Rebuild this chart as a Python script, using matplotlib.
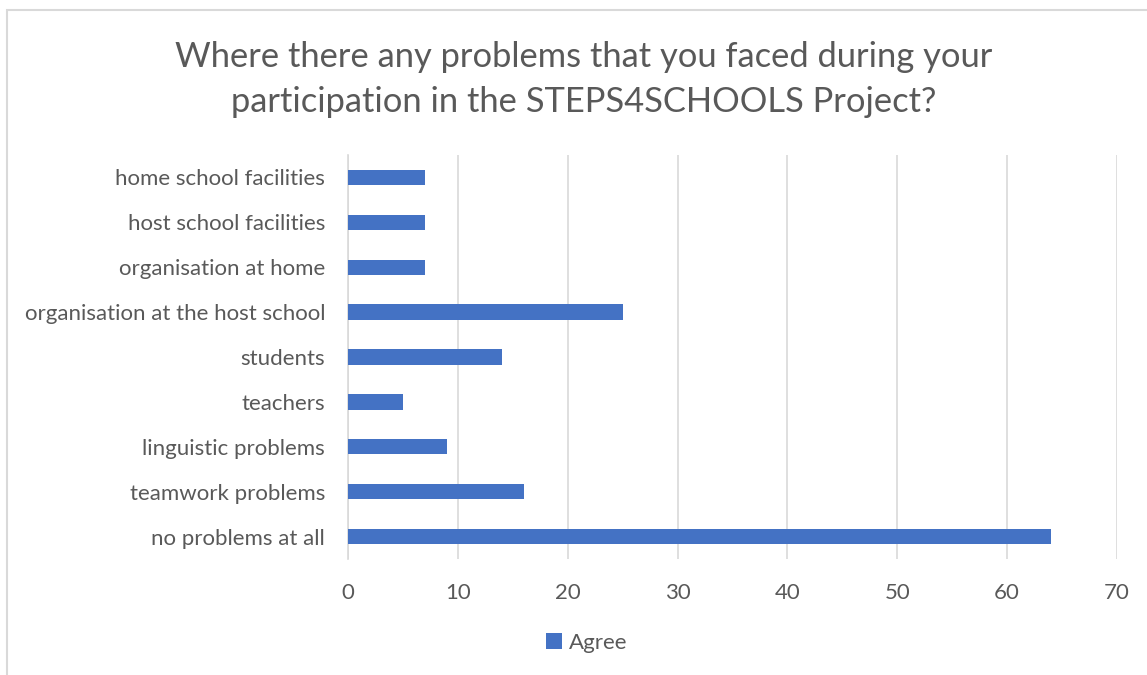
import matplotlib
matplotlib.use("Agg")
import matplotlib.pyplot as plt
from matplotlib.patches import Rectangle

categories = ["no problems at all", "teamwork problems", "linguistic problems", "teachers",
              "students", "organisation at the host school", "organisation at home",
              "host school facilities", "home school facilities"]
agree = [64, 16, 9, 5, 14, 25, 7, 7, 7]
xticks = [0, 10, 20, 30, 40, 50, 60, 70]

INK = "#595959"
GRID = "#d9d9d9"
BLUE = "#4472C4"
plt.rcParams["font.family"] = ["Lato", "DejaVu Sans"]

W, H = 1147, 675
fig = plt.figure(figsize=(W / 100, H / 100), dpi=100)
ax = fig.add_axes([348 / W, 1 - 559 / H, (1117 - 348) / W, (559 - 155) / H])

ax.barh(range(len(categories)), agree, height=0.34, color=BLUE, label="Agree", zorder=3)
ax.set_xlim(0, 70)
ax.set_ylim(-0.5, len(categories) - 0.5)
ax.set_xticks(xticks)
ax.set_yticks(range(len(categories)))
ax.set_yticklabels(categories)
ax.xaxis.grid(True, color=GRID, linewidth=1.2, zorder=0)
ax.tick_params(axis="both", length=0, labelsize=16, colors=INK)
ax.tick_params(axis="x", pad=17)
ax.tick_params(axis="y", pad=16.5)
for s in ["top", "right", "bottom"]:
    ax.spines[s].set_visible(False)
ax.spines["left"].set_color(GRID)
ax.spines["left"].set_linewidth(1.2)

fig.text(584 / W, 1 - 57 / H, "Where there any problems that you faced during your",
         ha="center", va="center", fontsize=24.8, color=INK)
fig.text(584 / W, 1 - 102 / H, "participation in the STEPS4SCHOOLS Project?",
         ha="center", va="center", fontsize=24.8, color=INK)

fig.legend(loc="center", bbox_to_anchor=(587 / W, 1 - 643 / H), frameon=False,
           fontsize=16, labelcolor=INK, handlelength=0.7, handleheight=0.7,
           handletextpad=0.35)

fig.patches.append(Rectangle((7 / W, -0.1), 1.2, 1 - 10 / H + 0.1, transform=fig.transFigure,
                             fill=False, edgecolor=GRID, linewidth=1.5))

fig.savefig("out.png", dpi=100)
